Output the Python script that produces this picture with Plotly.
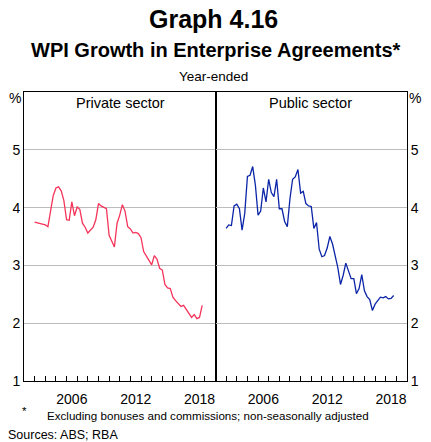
import pandas as pd
import plotly.graph_objects as go

first_quarter = "2003Q1"
private_sector = [3.75, 3.74, 3.73, 3.71, 3.70, 3.67, 3.96, 4.21, 4.34, 4.36, 4.29, 4.12,
                  3.79, 3.78, 4.10, 3.86, 4.01, 3.97, 3.73, 3.66, 3.56, 3.62, 3.66, 3.79,
                  4.07, 4.03, 4.00, 3.98, 3.52, 3.43, 3.32, 3.73, 3.87, 4.05, 3.94, 3.67,
                  3.63, 3.56, 3.57, 3.55, 3.48, 3.24, 3.17, 3.10, 3.01, 3.17, 3.11, 2.95,
                  2.92, 2.67, 2.61, 2.60, 2.45, 2.39, 2.33, 2.29, 2.31, 2.24, 2.18, 2.10,
                  2.15, 2.08, 2.10, 2.31]
public_sector = [3.64, 3.70, 3.69, 4.03, 4.06, 3.98, 3.61, 3.90, 4.54, 4.56, 4.71, 4.39,
                 3.87, 3.94, 4.34, 4.10, 4.49, 4.26, 4.19, 4.49, 3.98, 3.98, 3.76, 3.67,
                 4.16, 4.49, 4.53, 4.66, 4.25, 4.28, 4.07, 4.03, 4.02, 3.64, 3.74, 3.28,
                 3.15, 3.17, 3.30, 3.50, 3.37, 3.17, 2.96, 2.67, 2.83, 3.04, 2.89, 2.77,
                 2.77, 2.51, 2.60, 2.84, 2.56, 2.46, 2.41, 2.22, 2.33, 2.38, 2.45, 2.44,
                 2.46, 2.42, 2.43, 2.48]
tick_years = [2006, 2012, 2018]
y_ticks = [1, 2, 3, 4, 5]

dates = pd.period_range(first_quarter, periods=len(private_sector), freq="Q").start_time

FONT = "Arial, Liberation Sans, sans-serif"
fig = go.Figure()
fig.add_trace(go.Scatter(x=dates, y=private_sector, mode="lines",
                         line=dict(color="#f5345a", width=1.3), xaxis="x", yaxis="y"))
fig.add_trace(go.Scatter(x=dates, y=public_sector, mode="lines",
                         line=dict(color="#0b25a8", width=1.3), xaxis="x2", yaxis="y2"))

xcommon = dict(
    range=["2002-01-01", "2020-01-01"],
    tickvals=[f"{y}-07-02" for y in tick_years],
    ticktext=[str(y) for y in tick_years],
    ticks="", showgrid=False, zeroline=False,
    showline=True, linecolor="black", linewidth=1, mirror=True,
    ticklabelstandoff=5,
    tickfont=dict(size=14, color="black", family=FONT),
    minor=dict(tickvals=[f"{y}-01-01" for y in range(2003, 2020)],
               ticks="inside", ticklen=5, tickcolor="black", tickwidth=1, showgrid=False),
)
ycommon = dict(
    range=[1, 6], tickvals=y_ticks, ticktext=[str(v) for v in y_ticks],
    ticks="", showgrid=True, gridcolor="#bcbcbc", gridwidth=1, zeroline=False,
    showline=True, linecolor="black", linewidth=1, mirror=True,
    tickfont=dict(size=14, color="black", family=FONT),
)

W, H, L, R, T, B = 431, 442, 21, 16, 92, 61
fig.update_layout(
    width=W, height=H,
    margin=dict(l=L, r=R, t=T, b=B),
    paper_bgcolor="white", plot_bgcolor="white",
    showlegend=False,
    font=dict(family=FONT, color="black"),
    xaxis=dict(domain=[0, 0.5], anchor="y", **xcommon),
    xaxis2=dict(domain=[0.5, 1], anchor="y2", **xcommon),
    yaxis=dict(anchor="x", side="left", **ycommon),
    yaxis2=dict(anchor="x2", side="right", **ycommon),
)

ph = H - T - B
pw = W - L - R


def add_text(text, px, py, size, xanchor="center"):
    fig.add_annotation(text=text, xref="paper", yref="paper",
                       x=(px - L) / pw, y=(H - B - py) / ph,
                       xanchor=xanchor, yanchor="middle", showarrow=False,
                       font=dict(size=size, color="black", family=FONT))


add_text("<b>Graph 4.16</b>", 215.5, 19, 25)
add_text("<b>WPI Growth in Enterprise Agreements*</b>", 218, 50, 20)
add_text("Year-ended", 216, 76, 13.5)
add_text("%", 12, 98, 14)
add_text("%", 423, 98, 14)
add_text("Private sector", 120, 103, 14.5)
add_text("Public sector", 316, 103, 14.5)
add_text("*", 21, 411, 11.5)
add_text("Excluding bonuses and commissions; non-seasonally adjusted", 43, 415, 11.6, xanchor="left")
add_text("Sources: ABS; RBA", 2, 435, 12.5, xanchor="left")

fig.write_html("out.html", config={"displayModeBar": False})
with open("out.html", encoding="utf-8") as f:
    html = f.read()
html = html.replace("<head>", "<head><style>html,body{margin:0;padding:0;overflow:hidden}</style>", 1)
with open("out.html", "w", encoding="utf-8") as f:
    f.write(html)
